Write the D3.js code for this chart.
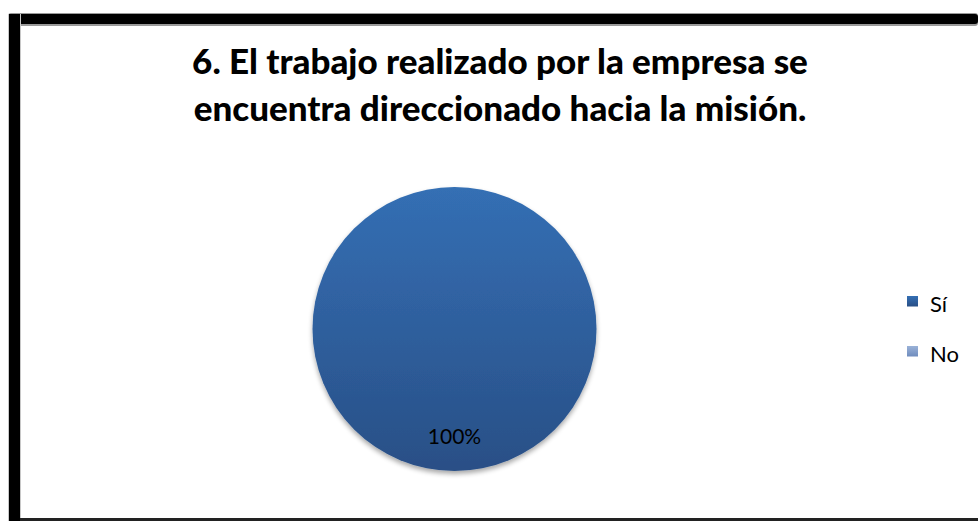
<!DOCTYPE html>
<html>
<head>
<meta charset="utf-8">
<script src="https://cdn.jsdelivr.net/npm/d3@7"></script>
<style>
  html, body { margin: 0; padding: 0; background: #fff; }
  svg { display: block; }
</style>
</head>
<body>
<svg id="chart" width="978" height="521"></svg>
<script>
// Survey question 6: answer shares
const categories = ["Sí", "No"];
const values = [100, 0];
const titleLines = ["6. El trabajo realizado por la empresa se", "encuentra direccionado hacia la misión."];

const W = 978, H = 521;
const svg = d3.select("#chart");
const defs = svg.append("defs");

// vertical gradients for slices and legend keys
const grads = [
  { id: "g0", top: "#346fb4", bottom: "#294f86" },
  { id: "g1", top: "#9ab2d8", bottom: "#6f8cbd" }
];
grads.forEach(g => {
  const lg = defs.append("linearGradient").attr("id", g.id)
    .attr("x1", 0).attr("y1", 0).attr("x2", 0).attr("y2", 1);
  lg.append("stop").attr("offset", "0%").attr("stop-color", g.top);
  lg.append("stop").attr("offset", "100%").attr("stop-color", g.bottom);
});
const shadow = defs.append("filter").attr("id", "shadow")
  .attr("x", "-10%").attr("y", "-10%").attr("width", "120%").attr("height", "125%");
shadow.append("feGaussianBlur").attr("in", "SourceAlpha").attr("stdDeviation", 2.5);
shadow.append("feOffset").attr("dx", 0).attr("dy", 2.5).attr("result", "b");
shadow.append("feComponentTransfer").append("feFuncA").attr("type", "linear").attr("slope", 0.35);
const fm = shadow.append("feMerge");
fm.append("feMergeNode");
fm.append("feMergeNode").attr("in", "SourceGraphic");

// frame
svg.append("rect").attr("x", 0).attr("y", 0).attr("width", W).attr("height", H).attr("fill", "#fff");
svg.append("rect").attr("x", 8).attr("y", 13).attr("width", W - 8).attr("height", 13).attr("fill", "#9a9a9a").attr("rx", 3);
svg.append("rect").attr("x", 9).attr("y", 14).attr("width", W - 9).attr("height", 10).attr("fill", "#000").attr("rx", 3);
svg.append("rect").attr("x", 8).attr("y", 14).attr("width", 13).attr("height", H - 14).attr("fill", "#c8c8c8");
svg.append("rect").attr("x", 9).attr("y", 14).attr("width", 11).attr("height", H - 14).attr("fill", "#000");
svg.append("rect").attr("x", 20).attr("y", 518).attr("width", W - 20).attr("height", 3).attr("fill", "#222");

// title
const title = svg.append("text")
  .attr("text-anchor", "middle")
  .attr("font-family", "Lato, 'Open Sans', sans-serif")
  .attr("font-weight", "900")
  .attr("font-size", 31)
  .attr("fill", "#000");
title.selectAll("tspan").data(titleLines).join("tspan")
  .attr("x", 500)
  .attr("y", (d, i) => 74 + i * 47)
  .text(d => d);
// fit first line to its width
const firstLine = title.select("tspan").node();
const measured = firstLine.getComputedTextLength();
title.attr("font-size", 31 * 616 / measured);

// pie
const cx = 454.5, cy = 329, r = 142;
const pie = d3.pie().sort(null).value(d => d.value);
const arcs = pie(categories.map((c, i) => ({ name: c, value: values[i], idx: i })));
const arc = d3.arc().innerRadius(0).outerRadius(r);
const g = svg.append("g").attr("transform", `translate(${cx},${cy})`);

g.append("g").attr("filter", "url(#shadow)")
  .selectAll("path").data(arcs.filter(a => a.data.value > 0)).join("path")
  .attr("d", arc)
  .attr("fill", d => `url(#g${d.data.idx})`);

// percentage labels
const total = d3.sum(values);
const labelArc = d3.arc().innerRadius(r * 0.8).outerRadius(r * 0.8);
g.selectAll("text.pct").data(arcs.filter(a => a.data.value > 0)).join("text")
  .attr("class", "pct")
  .attr("text-anchor", "middle")
  .attr("font-family", "Lato, 'Open Sans', sans-serif")
  .attr("font-size", 21)
  .attr("fill", "#000")
  .attr("x", d => {
    const full = d.endAngle - d.startAngle >= 2 * Math.PI - 1e-6;
    return full ? 0 : labelArc.centroid(d)[0];
  })
  .attr("y", d => {
    const full = d.endAngle - d.startAngle >= 2 * Math.PI - 1e-6;
    return full ? 115 : labelArc.centroid(d)[1] + 7;
  })
  .text(d => Math.round(d.data.value / total * 100) + "%");

// legend
const legend = svg.append("g").attr("transform", "translate(907,296)");
const item = legend.selectAll("g").data(categories).join("g")
  .attr("transform", (d, i) => `translate(0,${i * 50})`);
item.append("rect").attr("width", 11).attr("height", 10.5)
  .attr("fill", (d, i) => `url(#g${i})`);
item.append("text")
  .attr("x", 23).attr("y", 16)
  .attr("font-family", "Lato, 'Open Sans', sans-serif")
  .attr("font-size", 22)
  .attr("fill", "#000")
  .text(d => d);
</script>
</body>
</html>
